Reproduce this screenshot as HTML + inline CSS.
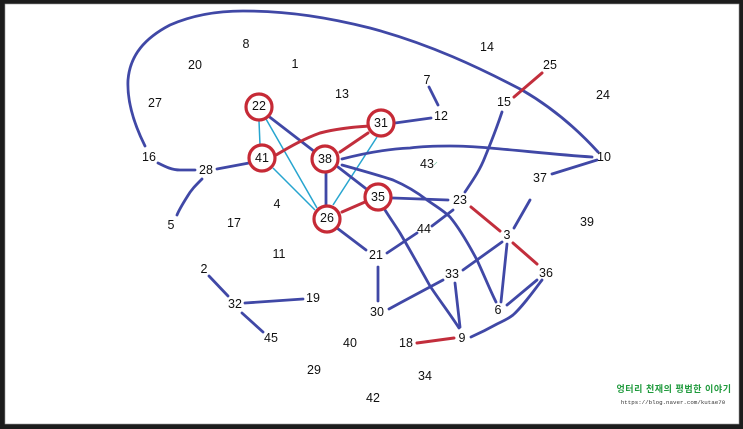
<!DOCTYPE html>
<html lang="ko">
<head>
<meta charset="utf-8">
<style>
html,body{margin:0;padding:0;background:#fff;width:743px;height:429px;overflow:hidden}
svg{display:block}
text{font-family:"Liberation Sans","Noto Sans CJK KR",sans-serif}
.l text{font-size:12.5px;fill:#111;text-anchor:middle;dominant-baseline:central}
.b{fill:none;stroke:#4048a6;stroke-width:2.8;stroke-linecap:round;stroke-linejoin:round}
.r{fill:none;stroke:#c22e3c;stroke-width:3;stroke-linecap:round}
.c{fill:none;stroke:#27a5cf;stroke-width:1.5}
.n{fill:#fff;stroke:#c62a36;stroke-width:3.2}
</style>
</head>
<body>
<svg width="743" height="429" viewBox="0 0 743 429" xmlns="http://www.w3.org/2000/svg">
<rect width="743" height="429" fill="#1c1c1c"/>
<rect x="5" y="4" width="734" height="420" fill="#fff" stroke="#999" stroke-width="0.6"/>

<g class="c">
<path d="M259 121L260 145"/>
<path d="M266 119L317 208"/>
<path d="M273 168L315 210"/>
<path d="M377 137L333 205"/>
</g>

<g class="b">
<path d="M145 146C133 122 127 100 128 80C130 55 145 38 170 25C195 14 220 11 243 11C290 11 330 18 370 28C430 44 480 68 522 90C553 108 578 130 598 152"/>
<path d="M158 163C166 167 172 170 180 170L195 170"/>
<path d="M217 169L249 163"/>
<path d="M202 179C195 186 191 190 187 197C182 205 179 210 177 215"/>
<path d="M267 115L315 152"/>
<path d="M326 172L326 206"/>
<path d="M338 167L369 191"/>
<path d="M337 228L366 250"/>
<path d="M395 123L431 118"/>
<path d="M429 87L438 105"/>
<path d="M342 159C365 153 388 149 410 148C425 146 437 146 450 146C465 146 478 147 490 148C525 151 560 155 592 157"/>
<path d="M342 165C360 170 378 175 393 180C407 186 418 193 427 200C437 207 444 211 450 217C460 229 469 245 477 260C484 275 490 290 496 302"/>
<path d="M393 198L448 200"/>
<path d="M385 210C390 218 395 225 400 233C410 250 420 268 430 286C440 301 450 314 459 328"/>
<path d="M387 253L417 233"/>
<path d="M432 226L453 210"/>
<path d="M378 267L378 301"/>
<path d="M389 309L400 303L443 280"/>
<path d="M463 270L502 242"/>
<path d="M455 283L460 327"/>
<path d="M507 244L501 302"/>
<path d="M507 305L537 280"/>
<path d="M471 337C480 333 488 329 497 324C503 321 508 319 513 315C522 307 533 292 542 280"/>
<path d="M514 228L530 200"/>
<path d="M552 174L597 160"/>
<path d="M465 192C473 180 480 170 485 157C492 140 497 127 502 112"/>
<path d="M209 276L228 296"/>
<path d="M245 303L303 299"/>
<path d="M242 313L263 332"/>
</g>

<g class="r">
<path d="M276 155C288 148 303 139 320 133C335 129 352 127 370 126"/>
<path d="M340 152L368 133"/>
<path d="M342 212L365 202"/>
<path d="M417 343L454 338"/>
<path d="M471 207L500 231"/>
<path d="M513 243L537 264"/>
<path d="M514 97L542 73"/>
</g>

<circle class="n" cx="259" cy="107" r="13"/>
<circle class="n" cx="262" cy="158" r="13"/>
<circle class="n" cx="325" cy="159" r="13"/>
<circle class="n" cx="381" cy="123" r="13"/>
<circle class="n" cx="378" cy="197" r="13"/>
<circle class="n" cx="327" cy="219" r="13"/>

<path d="M434 165L437 162" fill="none" stroke="#7fc7a8" stroke-width="0.7"/>

<g class="l">
<text x="246" y="44">8</text>
<text x="195" y="65">20</text>
<text x="295" y="64">1</text>
<text x="487" y="47">14</text>
<text x="550" y="65">25</text>
<text x="427" y="80">7</text>
<text x="603" y="95">24</text>
<text x="155" y="103">27</text>
<text x="342" y="94">13</text>
<text x="504" y="102">15</text>
<text x="441" y="116">12</text>
<text x="259" y="106">22</text>
<text x="381" y="123">31</text>
<text x="149" y="157">16</text>
<text x="206" y="170">28</text>
<text x="262" y="158">41</text>
<text x="325" y="159">38</text>
<text x="427" y="164">43</text>
<text x="604" y="157">10</text>
<text x="540" y="178">37</text>
<text x="378" y="197">35</text>
<text x="460" y="200">23</text>
<text x="171" y="225">5</text>
<text x="234" y="223">17</text>
<text x="277" y="204">4</text>
<text x="327" y="218">26</text>
<text x="424" y="229">44</text>
<text x="587" y="222">39</text>
<text x="507" y="235">3</text>
<text x="279" y="254">11</text>
<text x="376" y="255">21</text>
<text x="204" y="269">2</text>
<text x="452" y="274">33</text>
<text x="546" y="273">36</text>
<text x="235" y="304">32</text>
<text x="313" y="298">19</text>
<text x="377" y="312">30</text>
<text x="498" y="310">6</text>
<text x="271" y="338">45</text>
<text x="350" y="343">40</text>
<text x="406" y="343">18</text>
<text x="462" y="338">9</text>
<text x="314" y="370">29</text>
<text x="425" y="376">34</text>
<text x="373" y="398">42</text>
</g>

<text x="674" y="392" text-anchor="middle" font-size="9" font-weight="700" fill="#1f9a3c" letter-spacing="0.55">엉터리 천재의 평범한 이야기</text>
<text x="673" y="404" text-anchor="middle" font-size="5.8" fill="#333" style="font-family:'Liberation Mono',monospace">https://blog.naver.com/kutae70</text>
</svg>
</body>
</html>
